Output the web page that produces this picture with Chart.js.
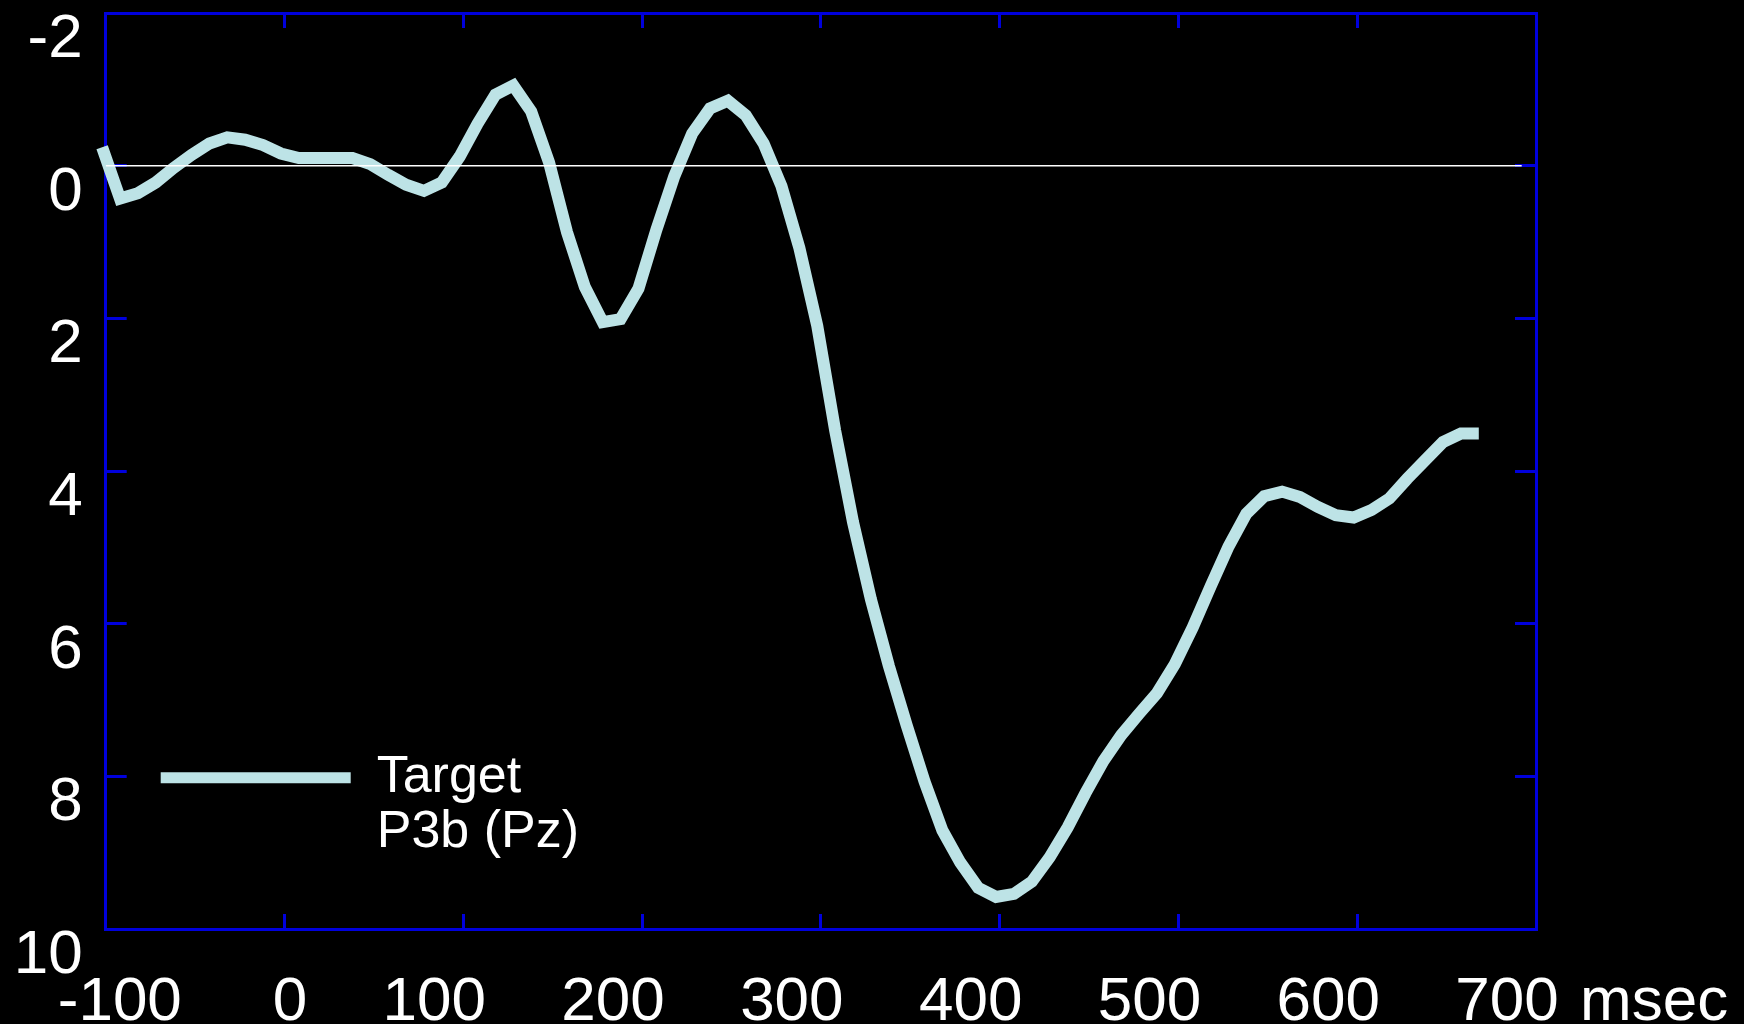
<!DOCTYPE html>
<html>
<head>
<meta charset="utf-8">
<title>Target P3b (Pz)</title>
<script src="https://cdn.jsdelivr.net/npm/chart.js@4.4.1/dist/chart.umd.min.js"></script>
<style>
  html, body { margin: 0; padding: 0; background: #000; }
  canvas { display: block; background: #000; }
</style>
</head>
<body>
<canvas id="erp" width="1744" height="1024"></canvas>
<script>
// sample times in msec (one sample every ~10 ms)
var times = [-102, -92, -82, -72, -62, -52, -42, -32, -22, -12,
             -2, 8, 18, 28, 38, 48, 58, 68, 78, 88,
             98, 108, 118, 128, 138, 148, 158, 168, 178, 188,
             198, 208, 218, 228, 238, 248, 258, 268, 278, 288,
             298, 308, 318, 328, 338, 348, 358, 368, 378, 388,
             398, 408, 418, 428, 438, 448, 458, 468, 478, 488,
             498, 508, 518, 528, 538, 548, 558, 568, 578, 588,
             598, 608, 618, 628, 638, 648, 658, 668];
// amplitude in uV (axis is drawn negative up)
var targetP3b = [-0.24, 0.43, 0.36, 0.22, 0.03, -0.14, -0.29, -0.37, -0.34, -0.27,
                 -0.16, -0.1, -0.1, -0.1, -0.1, -0.02, 0.12, 0.25, 0.33, 0.22,
                 -0.12, -0.55, -0.93, -1.05, -0.71, -0.04, 0.87, 1.59, 2.05, 2.01,
                 1.61, 0.84, 0.14, -0.42, -0.75, -0.85, -0.66, -0.29, 0.27, 1.08,
                 2.1, 3.47, 4.67, 5.68, 6.55, 7.33, 8.07, 8.71, 9.13, 9.46,
                 9.58, 9.54, 9.38, 9.06, 8.67, 8.22, 7.8, 7.46, 7.18, 6.91,
                 6.53, 6.05, 5.51, 4.99, 4.56, 4.33, 4.27, 4.34, 4.47, 4.58,
                 4.61, 4.51, 4.36, 4.1, 3.86, 3.62, 3.51, 3.51];
var zeroLineX = [-100, 692];
var xTickValues = [-100, 0, 100, 200, 300, 400, 500, 600, 700];
var yTickValues = [-2, 0, 2, 4, 6, 8, 10];
var legendText = ['Target', 'P3b (Pz)'];
var xUnit = 'msec';

var blue = '#0000dc';
var lineColor = '#bde3e6';
var fontFamily = 'Liberation Sans';

Chart.defaults.font.family = fontFamily;

function setTicks(values) {
  return function (scale) {
    scale.ticks = values.map(function (v) { return { value: v }; });
  };
}

// "msec" sits right after the 700 label
var unitLabel = {
  id: 'unitLabel',
  afterDraw: function (chart) {
    var xs = chart.scales.x;
    var ctx = chart.ctx;
    ctx.save();
    ctx.font = '62px "' + fontFamily + '"';
    ctx.fillStyle = '#ffffff';
    ctx.textAlign = 'left';
    ctx.textBaseline = 'middle';
    ctx.fillText(xUnit, xs.getPixelForValue(700) + 44, xs.top + 74);
    ctx.restore();
  }
};

var ctx = document.getElementById('erp').getContext('2d');
var myChart = new Chart(ctx, {
  type: 'line',
  data: {
    datasets: [{
      label: 'zero',
      data: zeroLineX.map(function (x) { return { x: x, y: 0 }; }),
      borderColor: '#ffffff',
      borderWidth: 1.5,
      pointRadius: 0,
      fill: false
    }, {
      label: 'Target P3b (Pz)',
      data: times.map(function (t, i) { return { x: t, y: targetP3b[i] }; }),
      borderColor: lineColor,
      borderWidth: 12,
      borderJoinStyle: 'miter',
      borderCapStyle: 'butt',
      pointRadius: 0,
      tension: 0,
      fill: false,
      clip: false
    }]
  },
  options: {
    responsive: false,
    animation: false,
    layout: { padding: 0 },
    plugins: {
      tooltip: { enabled: false },
      legend: {
        position: 'chartArea',
        align: 'end',
        labels: {
          boxWidth: 190,
          boxHeight: 11,
          padding: 55,
          color: '#ffffff',
          font: { family: fontFamily, size: 52, lineHeight: 1.05 },
          generateLabels: function () {
            return [{
              text: legendText,
              fillStyle: lineColor,
              strokeStyle: lineColor,
              lineWidth: 0,
              fontColor: '#ffffff',
              hidden: false,
              datasetIndex: 1
            }];
          }
        }
      }
    },
    scales: {
      x: {
        type: 'linear',
        position: 'bottom',
        min: -100,
        max: 700,
        afterBuildTicks: setTicks(xTickValues),
        afterFit: function (s) { s.height = 95; s.paddingLeft = 0; s.paddingRight = 0; },
        border: { color: blue, width: 3 },
        grid: { drawOnChartArea: false, color: blue, lineWidth: 3, tickLength: -15 },
        ticks: {
          color: '#ffffff',
          font: { family: fontFamily, size: 62 },
          padding: 52,
          labelOffset: -29,
          maxRotation: 0,
          autoSkip: false,
          callback: function (value) {
            if (value === -100) return '\u2007\u2007 -100';
            if (value === 0) return '\u2007\u20070';
            return String(value);
          }
        }
      },
      x2: {
        type: 'linear',
        position: 'top',
        min: -100,
        max: 700,
        afterBuildTicks: setTicks(xTickValues),
        afterFit: function (s) { s.height = 13; s.paddingLeft = 0; s.paddingRight = 0; },
        border: { color: blue, width: 3 },
        grid: { drawOnChartArea: false, color: blue, lineWidth: 3, tickLength: -15 },
        ticks: { display: false }
      },
      y: {
        type: 'linear',
        position: 'left',
        reverse: true,
        min: -2,
        max: 10,
        afterBuildTicks: setTicks(yTickValues),
        afterFit: function (s) { s.width = 105.7; s.paddingTop = 0; s.paddingBottom = 0; },
        border: { color: blue, width: 3 },
        grid: { drawOnChartArea: false, color: blue, lineWidth: 3, tickLength: -21 },
        ticks: {
          color: '#ffffff',
          font: { family: fontFamily, size: 62 },
          padding: 44,
          labelOffset: 27,
          callback: function (value) { return String(value); }
        }
      },
      y2: {
        type: 'linear',
        position: 'right',
        reverse: true,
        min: -2,
        max: 10,
        afterBuildTicks: setTicks(yTickValues),
        afterFit: function (s) { s.width = 208; s.paddingTop = 0; s.paddingBottom = 0; },
        border: { color: blue, width: 3 },
        grid: { drawOnChartArea: false, color: blue, lineWidth: 3, tickLength: -21 },
        ticks: { display: false }
      }
    }
  },
  plugins: [unitLabel]
});
</script>
</body>
</html>
